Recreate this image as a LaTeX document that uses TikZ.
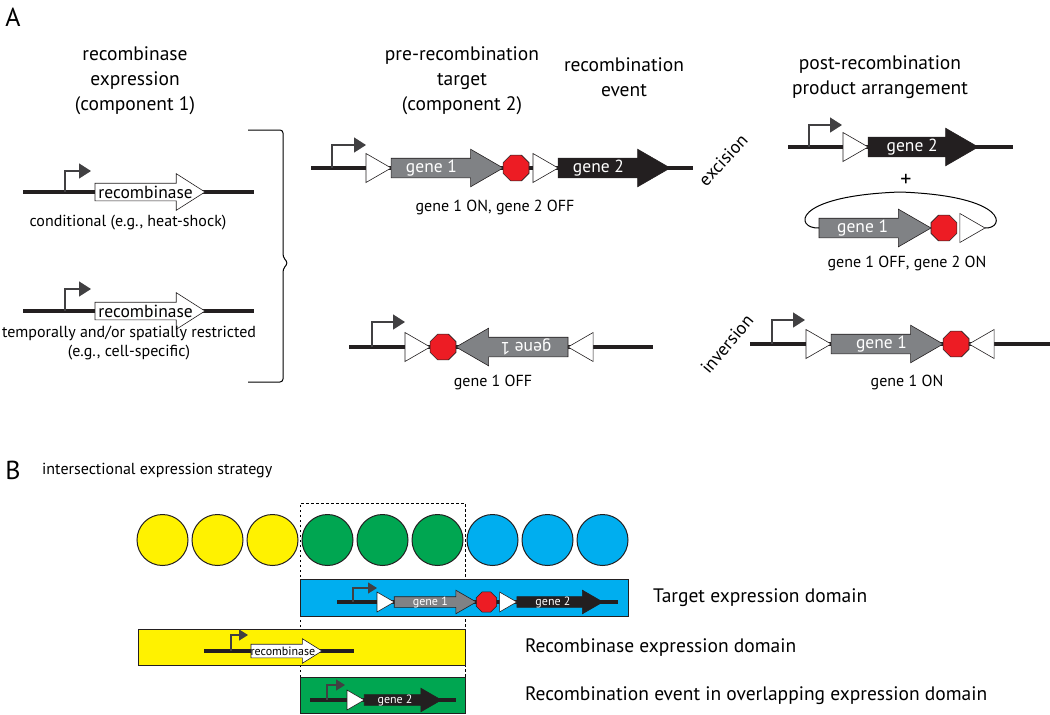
\documentclass[tikz,border=0pt]{standalone}
\usepackage{fontspec}
\setmainfont{PT Sans}
\usetikzlibrary{arrows.meta,calc,positioning,shapes.arrows,shapes.geometric}

\definecolor{genegray}{RGB}{128,130,133}
\definecolor{geneblack}{RGB}{35,31,32}
\definecolor{stopred}{RGB}{237,28,36}
\definecolor{promgray}{RGB}{65,64,66}
\definecolor{cellyellow}{RGB}{255,242,0}
\definecolor{cellgreen}{RGB}{0,166,81}
\definecolor{cellblue}{RGB}{0,174,239}

\tikzset{
  dna/.style={line width=3.6pt, draw=geneblack},
  dnasmall/.style={line width=3.2pt, draw=geneblack},
  prom/.style={line width=1.5pt, draw=promgray, -{Triangle[length=12pt,width=15pt]}},
  promsmall/.style={line width=1.2pt, draw=promgray, -{Triangle[length=9pt,width=11pt]}},
  gene/.style={single arrow, draw=geneblack, line width=0.6pt, minimum height=112pt,
    inner xsep=0pt, inner ysep=9.5pt, text height=0pt, text depth=0pt,
    single arrow head extend=9pt, single arrow tip angle=60, outer sep=0pt, anchor=tail},
  recomb/.style={gene, fill=white, minimum height=110pt, inner ysep=8.5pt,
    single arrow head extend=9.5pt, single arrow tip angle=65},
  genesmall/.style={gene, minimum height=82pt, inner ysep=5pt, single arrow head extend=6.5pt},
  recsmall/.style={gene, fill=white, minimum height=71pt, inner ysep=6.5pt,
    single arrow head extend=5.5pt, single arrow tip angle=64},
  loxp/.style={regular polygon, regular polygon sides=3, shape border rotate=-90,
    draw=geneblack, fill=white, line width=0.6pt, minimum size=33.5pt,
    inner sep=0pt, outer sep=0pt, anchor=side 2},
  loxpleft/.style={loxp, shape border rotate=90},
  loxpsmall/.style={loxp, minimum size=23pt},
  stopsign/.style={regular polygon, regular polygon sides=8, draw=geneblack, fill=stopred,
    line width=0.6pt, minimum size=28pt, inner sep=0pt, outer sep=0pt},
  stopsmall/.style={stopsign, minimum size=22pt},
  lbl/.style={font=\fontsize{17.5}{17.5}\selectfont, text=white, inner sep=0pt},
  lblsmall/.style={font=\fontsize{12}{12}\selectfont, text=white, inner sep=0pt},
  head/.style={font=\fontsize{19.5}{25}\selectfont, align=center, inner sep=0pt},
  note/.style={font=\fontsize{16}{19.5}\selectfont, align=center, inner sep=0pt},
  eventlbl/.style={font=\fontsize{18}{20}\selectfont, inner sep=0pt},
  panel/.style={font=\fontsize{26}{26}\selectfont, inner sep=0pt},
  cellnode/.style={circle, draw=geneblack, line width=1pt, minimum size=51pt, inner sep=0pt},
  domainbox/.style={draw=geneblack, line width=0.8pt, inner sep=0pt, anchor=north west},
  domainlbl/.style={font=\fontsize{19.5}{20}\selectfont, anchor=west, inner sep=0pt},
  frame/.style={line width=1pt, dash pattern=on 2.5pt off 2.5pt},
}

\begin{document}
\begin{tikzpicture}[x=1pt,y=-1pt]
  \useasboundingbox (0,0) rectangle (1050,715);

  % panel A headings
  \node[panel] (pA) at (13,17) {A};
  \node[head] (h1) at (135,81) {recombinase\\expression\\(component 1)};
  \node[head] (h2) at (462,81) {pre-recombination\\target\\(component 2)};
  \node[head] (h3) at (624,77) {recombination\\event};
  \node[head] (h4) at (880,77) {post-recombination\\product arrangement};

  % component 1, conditional
  \draw[dna] (23,192) -- (254,192);
  \draw[prom] (65,192) -- ++(0,-21) -- ++(26,0);
  \node[recomb] (rec1) at (95,192) {};
  \node[lbl, text=black] at ($(rec1.tail)!0.46!(rec1.tip)$) {recombinase};
  \node[note] (n1) at (128,223) {conditional (e.g., heat-shock)};

  % component 1, restricted
  \draw[dna] (23,311) -- (254,311);
  \draw[prom] (65,311) -- ++(0,-22) -- ++(26,0);
  \node[recomb] (rec2) at (95,311) {};
  \node[lbl, text=black] at ($(rec2.tail)!0.46!(rec2.tip)$) {recombinase};
  \node[note] (n2) at (129,343) {temporally and/or spatially restricted\\(e.g., cell-specific)};

  % bracket
  \draw[line width=1pt, rounded corners=3pt] (248,130) -- (283,130) -- (283,257)
    -- (288,263) -- (283,269) -- (283,382) -- (248,382);

  % target, excision
  \draw[dna] (311,168) -- (693,168);
  \draw[prom] (332,168) -- ++(0,-23) -- ++(34,0);
  \node[loxp] (tl1) at (366,168) {};
  \node[gene, fill=genegray] (tg1) at (tl1.corner 1) {};
  \node[lbl] at ($(tg1.tail)!0.36!(tg1.tip)$) {gene 1};
  \node[stopsign, right=0pt of tg1.tip] (ts) {};
  \node[loxp] (tl2) at ([xshift=4pt]ts.east) {};
  \node[gene, fill=geneblack] (tg2) at (tl2.corner 1) {};
  \node[lbl] at ($(tg2.tail)!0.36!(tg2.tip)$) {gene 2};
  \node[note] (n3) at (495,207) {gene 1 ON, gene 2 OFF};

  \node[eventlbl, rotate=47] (ev1) at (723,160) {excision};

  % products of excision
  \draw[dna] (788,147) -- (1013,147);
  \draw[prom] (809,147) -- ++(0,-22) -- ++(33,0);
  \node[loxp] (pl1) at (843,147) {};
  \node[gene, fill=geneblack, minimum height=110pt] (pg2) at (pl1.corner 1) {};
  \node[lbl] at ($(pg2.tail)!0.4!(pg2.tip)$) {gene 2};
  \node[font=\fontsize{22}{22}\selectfont, inner sep=0pt] (plus) at (906,180) {+};
  \node[gene, fill=genegray] (cg1) at (819,228) {};
  \node[lbl] at ($(cg1.tail)!0.39!(cg1.tip)$) {gene 1};
  \node[stopsign, right=0pt of cg1.tip] (cs) {};
  \node[loxp] (cl) at ([xshift=3pt]cs.east) {};
  \coordinate (looptop) at (900,192);
  \draw[line width=1pt] (cg1.tail) .. controls (795,229) and (790,196) .. (looptop)
    .. controls (1010,196) and (1005,229) .. (cl.corner 1);
  \node[note] (n4) at (907,263) {gene 1 OFF, gene 2 ON};

  % target, inversion
  \draw[dna] (349,347) -- (653,347);
  \draw[prom] (372,347) -- ++(0,-25) -- ++(33,0);
  \node[loxp] (il1) at (405,347) {};
  \node[stopsign, right=0pt of il1.corner 1] (is) {};
  \node[gene, fill=genegray, rotate=180, anchor=tip] (ig1) at (is.east) {};
  \node[lbl, rotate=180] at ($(ig1.tail)!0.375!(ig1.tip)$) {gene 1};
  \node[loxpleft, anchor=corner 1] (il2) at (ig1.tail) {};
  \node[note] (n5) at (493,382) {gene 1 OFF};

  \node[eventlbl, rotate=50] (ev2) at (727,344) {inversion};

  % product of inversion
  \draw[dna] (750,344) -- (1050,344);
  \draw[prom] (772,344) -- ++(0,-24) -- ++(33,0);
  \node[loxp] (jl1) at (806,344) {};
  \node[gene, fill=genegray] (jg1) at (jl1.corner 1) {};
  \node[lbl] at ($(jg1.tail)!0.45!(jg1.tip)$) {gene 1};
  \node[stopsign, right=0pt of jg1.tip] (js) {};
  \node[loxpleft, anchor=corner 1] (jl2) at (js.east) {};
  \node[note] (n6) at (907,382) {gene 1 ON};

  % panel B
  \node[panel] (pB) at (13,470) {B};
  \node[note, anchor=west] (sB) at (42,471) {intersectional expression strategy};

  \draw[frame] (300,712) -- (300,503) -- (465,503) -- (465,712);

  \foreach \i/\c in {0/cellyellow,1/cellyellow,2/cellyellow,3/cellgreen,4/cellgreen,
                     5/cellgreen,6/cellblue,7/cellblue,8/cellblue}
    \node[cellnode, fill=\c] (c\i) at (162.5+55*\i,540) {};

  % target domain
  \node[domainbox, fill=cellblue, minimum width=328pt, minimum height=37pt] (tdom) at (300,579) {};
  \draw[dnasmall] (337,602) -- (618,602);
  \draw[promsmall] (353,602) -- ++(0,-14) -- ++(24,0);
  \node[loxpsmall] (bl1) at (377,602) {};
  \node[genesmall, fill=genegray] (bg1) at (bl1.corner 1) {};
  \node[lblsmall] at ($(bg1.tail)!0.44!(bg1.tip)$) {gene 1};
  \node[stopsmall, right=0pt of bg1.tip] (bs) {};
  \node[loxpsmall] (bl2) at ([xshift=3pt]bs.east) {};
  \node[genesmall, fill=geneblack, minimum height=86pt] (bg2) at (bl2.corner 1) {};
  \node[lblsmall] at ($(bg2.tail)!0.42!(bg2.tip)$) {gene 2};

  % recombinase domain
  \node[domainbox, fill=cellyellow, minimum width=327pt, minimum height=36pt] (rdom) at (138,629) {};
  \draw[dnasmall] (204,651) -- (354,651);
  \draw[promsmall] (231,651) -- ++(0,-16) -- ++(17,0);
  \node[recsmall] (yr) at (251,651) {};
  \node[lblsmall, text=black] at ($(yr.tail)!0.45!(yr.tip)$) {recombinase};

  % overlap domain
  \node[domainbox, fill=cellgreen, minimum width=165pt, minimum height=36pt] (odom) at (300,677) {};
  \draw[dnasmall] (310,700) -- (456,700);
  \draw[promsmall] (327,700) -- ++(0,-15) -- ++(18,0);
  \node[loxpsmall] (gl1) at (347,700) {};
  \node[genesmall, fill=geneblack, minimum height=77pt] (gg2) at (gl1.corner 1) {};
  \node[lblsmall] at ($(gg2.tail)!0.4!(gg2.tip)$) {gene 2};

  \node[domainlbl, right=24pt of tdom] (dl1) {Target expression domain};
  \node[domainlbl, right=59pt of rdom] (dl2) {Recombinase expression domain};
  \node[domainlbl, right=59pt of odom] (dl3) {Recombination event in overlapping expression domain};
\end{tikzpicture}
\end{document}
